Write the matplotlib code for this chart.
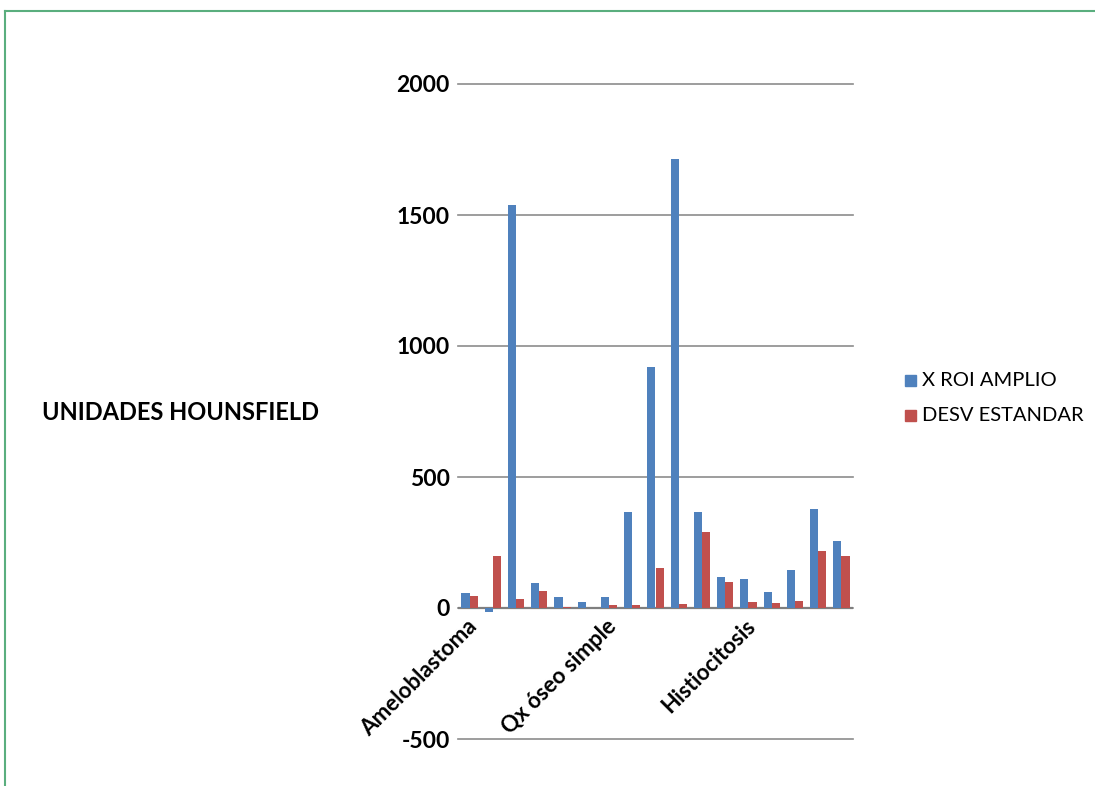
import matplotlib
matplotlib.use("Agg")
import matplotlib.pyplot as plt
from matplotlib.patches import Rectangle
import numpy as np

categories = ["Ameloblastoma", "", "", "", "", "", "Qx óseo simple", "", "", "", "", "",
              "Histiocitosis", "", "", "", ""]
x_roi_amplio = [57, -15, 1538, 97, 43, 22, 42, 366, 920, 1712, 366, 118, 111, 61, 145, 378, 256]
desv_estandar = [46, 198, 34, 64, 4, 1, 12, 10, 153, 15, 290, 99, 23, 19, 27, 218, 198]
yticks = [-500, 0, 500, 1000, 1500, 2000]
series_names = ["X ROI AMPLIO", "DESV ESTANDAR"]
y_title = "UNIDADES HOUNSFIELD"

blue = "#4F81BD"
red = "#C0504D"
FONT = "Lato"

W, H = 1095, 786
fig = plt.figure(figsize=(W / 100, H / 100), dpi=100)

# outer green border (chart frame)
fig.add_artist(plt.Line2D([5 / W, 5 / W], [0, 1 - 11 / H], transform=fig.transFigure,
                          color="#5AAE7E", lw=1.5))
fig.add_artist(plt.Line2D([5 / W, 1], [1 - 11 / H, 1 - 11 / H], transform=fig.transFigure,
                          color="#5AAE7E", lw=1.5))

left, right = 458, 853
top, bottom = 84, 739
ax = fig.add_axes([left / W, 1 - bottom / H, (right - left) / W, (bottom - top) / H])

n = len(x_roi_amplio)
x = np.arange(n)
bw = 0.35
ax.bar(x - bw / 2, x_roi_amplio, width=bw, color=blue, label=series_names[0], zorder=3)
ax.bar(x + bw / 2, desv_estandar, width=bw, color=red, label=series_names[1], zorder=3)

ax.set_xlim(-0.5, n - 0.5)
ax.set_ylim(-500, 2000)
ax.set_yticks(yticks)
ax.set_yticklabels([str(v) for v in yticks], fontsize=16.5, fontweight="bold", family=FONT)
for s in ax.spines.values():
    s.set_visible(False)
ax.tick_params(axis="y", length=0, pad=6)
ax.tick_params(axis="x", length=0)
for v in yticks:
    ax.axhline(v, color="#8C8C8C", lw=1.2, zorder=0, clip_on=False)
ax.axhline(0, color="#7F7F7F", lw=1.6, zorder=2)

ax.set_xticks([])
for i, lab in enumerate(categories):
    if lab:
        ax.text(i - 0.15, -30, lab, rotation=45, ha="right", va="top",
                rotation_mode="anchor", fontsize=16, fontweight="bold", family=FONT,
                transform=ax.transData)

fig.text(42 / W, 1 - 413 / H, y_title, ha="left", va="center", fontsize=17,
         fontweight="bold", family=FONT)

# legend
for k, (name, col) in enumerate(zip(series_names, [blue, red])):
    yc = 381 + 35 * k
    fig.add_artist(Rectangle((905 / W, 1 - (yc + 5) / H), 11 / W, 11 / H,
                             transform=fig.transFigure, color=col))
    fig.text(922 / W, 1 - yc / H, name, ha="left", va="center", fontsize=14.5, family=FONT)

fig.savefig("out.png", dpi=100)
